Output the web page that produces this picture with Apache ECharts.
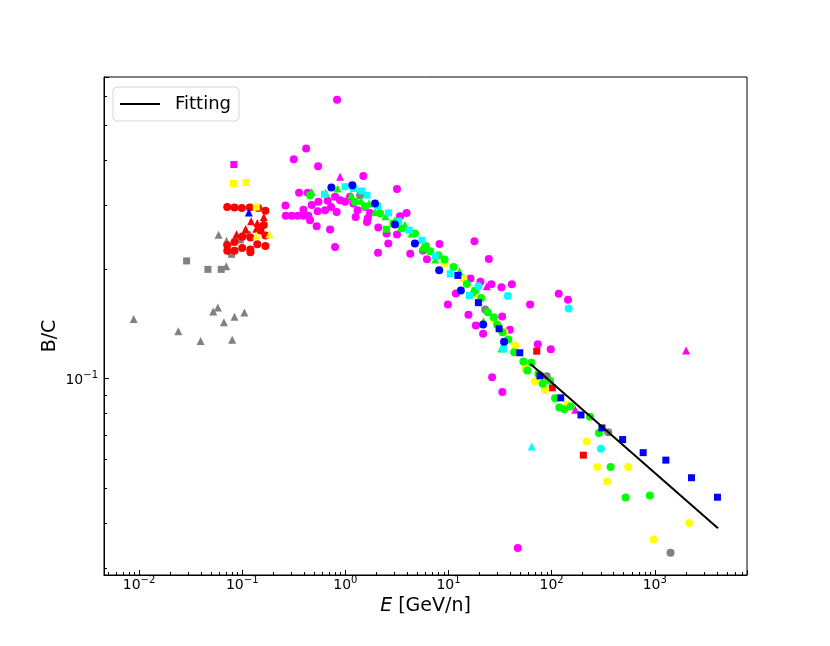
<!DOCTYPE html>
<html lang="en">
<head>
<meta charset="UTF-8">
<title>B/C</title>
<script src="https://cdn.jsdelivr.net/npm/echarts@6/dist/echarts.min.js"></script>
<style>
  body { margin: 0; background: #fff; }
  #main { width: 830px; height: 646px; }
</style>
</head>
<body>
<div id="main"></div>
<script>
// values, [E (GeV/n), B/C]
const grayTri = [[0.00887,0.146],[0.0240,0.135],[0.0395,0.127],[0.0524,0.153],[0.0581,0.157],[0.0664,0.143],[0.0842,0.148],[0.105,0.152],[0.0800,0.128],[0.0590,0.249],[0.0705,0.240],[0.0963,0.247],[0.0700,0.204]];
const grayRect = [[0.0289,0.211],[0.0465,0.200],[0.0626,0.200],[0.0788,0.220],[0.0957,0.241],[0.113,0.249]];
const grayDot = [[1.39,0.320],[5.65,0.225],[22.7,0.155],[89.7,0.1015],[354,0.0711],[1422,0.0331]];

const redDot = [[0.0716,0.297],[0.0842,0.296],[0.0991,0.295],[0.1185,0.296],[0.143,0.295],[0.168,0.290],[0.162,0.265],[0.150,0.256],[0.168,0.248],[0.140,0.2345],[0.168,0.232],[0.120,0.227],[0.120,0.223],[0.100,0.229],[0.0842,0.225],[0.0716,0.225],[0.0716,0.233],[0.0842,0.238],[0.100,0.246],[0.120,0.245]];
const redTri = [[0.122,0.2715],[0.140,0.2685],[0.162,0.279],[0.108,0.2585],[0.0881,0.250],[0.137,0.259]];
const redRect = [[71.7,0.119],[101.6,0.0943],[203,0.0615]];

const yellowRect = [[0.0824,0.345],[0.109,0.347],[0.137,0.297]];
const yellowTri = [[0.137,0.248],[0.184,0.250]];
const yellowDot = [[9.15,0.208],[13.97,0.1886],[17.46,0.1714],[27.3,0.1462],[34.8,0.1342],[44.2,0.1233],[55.3,0.1068],[69.1,0.0981],[86.3,0.0932],[140,0.0848],[218.7,0.0671],[277,0.0571],[552.7,0.0571],[346,0.0520],[2153,0.0400],[974,0.0360]];

const magentaRect = [[0.0829,0.389]];
const magentaTri = [[0.889,0.360],[23.5,0.1796],[169.6,0.0820],[2014,0.1195]];
const magentaDot = [[0.831,0.587],[0.4165,0.431],[0.316,0.402],[0.544,0.385],[1.494,0.362],[3.166,0.333],[0.2625,0.300],[0.2643,0.281],[0.302,0.281],[0.345,0.281],[0.392,0.281],[0.438,0.281],[0.356,0.325],[0.4315,0.325],[0.392,0.292],[0.472,0.301],[0.548,0.307],[0.539,0.289],[0.636,0.291],[0.727,0.297],[0.674,0.309],[0.795,0.317],[0.889,0.310],[0.993,0.307],[1.11,0.317],[1.195,0.304],[1.315,0.291],[1.551,0.297],[1.734,0.286],[1.644,0.276],[1.258,0.279],[0.824,0.288],[0.455,0.273],[0.527,0.263],[0.711,0.2575],[2.087,0.261],[2.51,0.251],[2.608,0.2356],[0.795,0.2305],[3.384,0.280],[3.921,0.286],[2.073,0.2224],[4.258,0.221],[6.178,0.2132],[3.166,0.2494],[1.622,0.270],[8.18,0.235],[17.85,0.2389],[24.6,0.2136],[16.33,0.1886],[20.4,0.185],[26.08,0.1819],[32.6,0.1784],[41.1,0.1819],[11.79,0.1717],[9.87,0.160],[15.62,0.150],[18.42,0.140],[21.67,0.1329],[33.1,0.1483],[39.3,0.1363],[61.8,0.160],[117.2,0.1714],[144.1,0.165],[73.4,0.1244],[98,0.1205],[26.5,0.1008],[33.3,0.0919],[47.0,0.0341]];

const cyanTri = [[64.2,0.0650]];
const cyanDot = [[19.5,0.1796],[37.6,0.1688],[146.4,0.1561],[300.8,0.0641]];
const cyanRect = [[0.626,0.322],[0.993,0.338],[1.203,0.334],[1.438,0.329],[1.622,0.320],[2.055,0.2986],[2.626,0.2862],[3.281,0.2715],[4.165,0.2564],[5.528,0.2406],[7.433,0.2177],[10.39,0.1946],[15.97,0.1695],[34.1,0.1208]];

const greenRect = [[2.494,0.258]];
const greenTri = [[0.472,0.327],[0.645,0.325],[0.842,0.334],[1.136,0.320],[1.419,0.309],[1.696,0.304],[1.939,0.288],[2.455,0.280],[3.027,0.273],[3.784,0.265],[4.384,0.251],[5.602,0.2305],[7.433,0.2128],[12.78,0.1975],[16.85,0.1731],[21.82,0.1439],[32.6,0.121]];
const greenDot = [[0.455,0.320],[1.241,0.307],[1.551,0.2986],[2.167,0.2851],[2.915,0.2675],[3.508,0.2592],[4.728,0.251],[6.04,0.232],[6.65,0.2242],[8.0,0.2187],[9.15,0.2128],[11.18,0.203],[15.07,0.1822],[18.14,0.175],[20.73,0.1667],[24.06,0.1524],[27.5,0.1477],[29.6,0.141],[33.3,0.1342],[38.1,0.1281],[43.3,0.1182],[53.2,0.1114],[63.6,0.1105],[58.2,0.1052],[74.3,0.103],[82.0,0.0967],[96.5,0.0987],[107.9,0.0882],[118.7,0.0833],[132.7,0.0823],[153,0.0837],[235.3,0.0785],[287.7,0.0708],[373.4,0.0571],[521.7,0.047],[896.8,0.0476]];

const blueTri = [[0.116,0.287]];
const blueDot = [[0.732,0.336],[1.169,0.341],[1.939,0.304],[3.027,0.266],[4.728,0.2356],[8.13,0.199],[13.18,0.175],[21.67,0.141],[34.6,0.1263]];
const blueRect = [[12.33,0.1925],[19.5,0.1619],[30.96,0.1372],[49.1,0.1178],[77.2,0.1017],[122.5,0.0885],[192.6,0.0794],[307.5,0.0731],[487.9,0.0679],[772,0.0625],[1281,0.0596],[2271,0.0533],[4054,0.0471]];

// fitted power law, end points
const fitE = [62, 4100];
const fitBC = [0.1098, 0.0387];

const FONT = 'DejaVu Sans';

function pts(color, shape, data) {
  let size = shape === 'rect' ? 7 : 8;
  return {
    type: 'scatter',
    data: data,
    symbol: shape,
    symbolSize: size,
    itemStyle: { color: color, opacity: 1 },
    silent: true
  };
}

function powLabel(v) {
  let p = Math.log10(v);
  let r = Math.round(p);
  if (Math.abs(p - r) > 1e-6) return '';
  let e = r < 0 ? '\u2212' + (-r) : '' + r;
  return '{b|10}{s|' + e + '}';
}

const richLbl = {
  b: { fontSize: 14, fontFamily: FONT, color: '#000', padding: [3, 0, 0, 0] },
  s: { fontSize: 10, fontFamily: FONT, color: '#000', verticalAlign: 'top' }
};

function logAxis(min, max) {
  return {
    type: 'log',
    logBase: 10,
    min: min,
    max: max,
    nameMoveOverlap: false,
    axisLine: { show: true, lineStyle: { color: '#000', width: 1 } },
    axisTick: { show: true, inside: true, length: 5, lineStyle: { color: '#000', width: 1 } },
    minorTick: { show: true, splitNumber: 9, length: 3, lineStyle: { color: '#000', width: 1 } },
    splitLine: { show: false },
    minorSplitLine: { show: false },
    axisLabel: {
      formatter: powLabel,
      rich: richLbl,
      showMinLabel: false,
      showMaxLabel: false,
      hideOverlap: false
    }
  };
}

let chart = echarts.init(document.getElementById('main'), null, { renderer: 'canvas' });

let xAx = logAxis(0.00457, 7840);
xAx.axisLabel.margin = 0;
xAx.name = '{i|E} [GeV/n]';
xAx.nameLocation = 'middle';
xAx.nameGap = 22;
xAx.nameTextStyle = {
  fontSize: 19, fontFamily: FONT, color: '#000',
  rich: { i: { fontSize: 19, fontFamily: FONT, fontStyle: 'italic', color: '#000' } }
};

let yAx = logAxis(0.02875, 0.678);
yAx.axisLabel.margin = 6;
yAx.name = 'B/C';
yAx.nameLocation = 'middle';
yAx.nameRotate = 90;
yAx.nameGap = 44;
yAx.nameTextStyle = { fontSize: 19, fontFamily: FONT, color: '#000', padding: [0, 20, 0, 0] };

let series = [
  pts('#ff00ff', 'circle', magentaDot),
  pts('#ff00ff', 'rect', magentaRect),
  pts('#ff00ff', 'triangle', magentaTri),
  pts('#808080', 'triangle', grayTri),
  pts('#808080', 'rect', grayRect),
  pts('#808080', 'circle', grayDot),
  pts('#ff0000', 'circle', redDot),
  pts('#ff0000', 'triangle', redTri),
  pts('#ff0000', 'rect', redRect),
  pts('#ffff00', 'rect', yellowRect),
  pts('#ffff00', 'triangle', yellowTri),
  pts('#ffff00', 'circle', yellowDot),
  pts('#00ff00', 'circle', greenDot),
  pts('#00ff00', 'triangle', greenTri),
  pts('#00ff00', 'rect', greenRect),
  pts('#00ffff', 'rect', cyanRect),
  pts('#00ffff', 'circle', cyanDot),
  pts('#00ffff', 'triangle', cyanTri),
  pts('#0000ff', 'circle', blueDot),
  pts('#0000ff', 'rect', blueRect),
  pts('#0000ff', 'triangle', blueTri),
  {
    name: 'Fitting',
    type: 'line',
    data: fitE.map((e, i) => [e, fitBC[i]]),
    symbol: 'none',
    lineStyle: { color: '#000', width: 2 },
    itemStyle: { color: '#000' },
    z: 5,
    silent: true
  }
];

chart.setOption({
  animation: false,
  backgroundColor: '#fff',
  grid: {
    left: 104, right: 83, top: 77, bottom: 71,
    show: true, borderColor: '#000', borderWidth: 1,
    containLabel: false, outerBoundsMode: 'none'
  },
  legend: {
    data: [{ name: 'Fitting', icon: 'rect' }],
    left: 113, top: 87,
    orient: 'vertical',
    padding: [8, 8, 8, 7],
    itemWidth: 40, itemHeight: 2,
    backgroundColor: '#fff',
    borderColor: '#d6d6d6', borderWidth: 1, borderRadius: 4,
    textStyle: { fontSize: 18, fontFamily: FONT, color: '#000', padding: [0, 0, 0, 10], lineHeight: 18 }
  },
  xAxis: xAx,
  yAxis: yAx,
  series: series
});
</script>
</body>
</html>
